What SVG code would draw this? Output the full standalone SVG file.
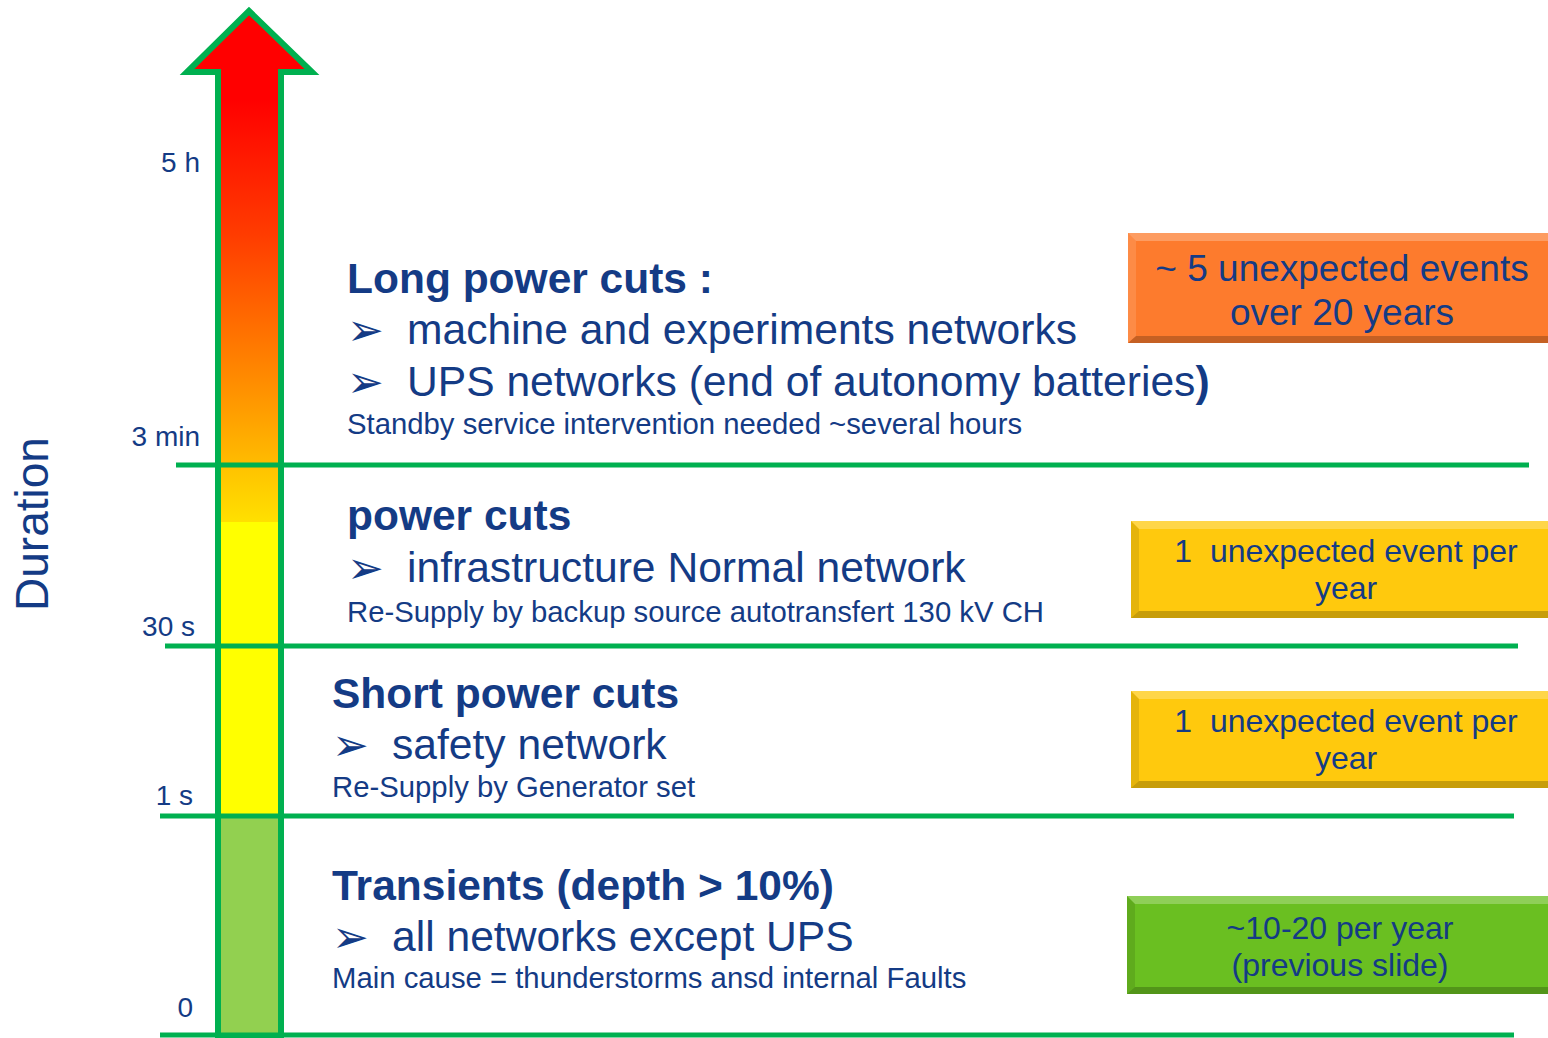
<svg xmlns="http://www.w3.org/2000/svg" width="1548" height="1038" viewBox="0 0 1548 1038">
<defs>
<linearGradient id="arrowGrad" gradientUnits="userSpaceOnUse" x1="0" y1="0" x2="0" y2="522">
<stop offset="0" stop-color="#ff0000"/>
<stop offset="0.19" stop-color="#ff0000"/>
<stop offset="0.45" stop-color="#ff3c00"/>
<stop offset="0.75" stop-color="#ff9200"/>
<stop offset="0.89" stop-color="#ffbc00"/>
<stop offset="0.9" stop-color="#ffc400"/>
<stop offset="1" stop-color="#ffe000"/>
</linearGradient>
<style>
.t{fill:#143b85;font-family:"Liberation Sans",Arial,sans-serif}
.h{font-size:42.5px;font-weight:bold}
.b{font-size:42.6px}
.s{font-size:29.3px}
.ax{font-size:28px;text-anchor:end}
.bx{font-size:32px;text-anchor:middle}
.bxl{font-size:37px;text-anchor:middle}
.bul{font-family:"DejaVu Sans",sans-serif;font-size:44px;fill:#143b85}
.sep{stroke:#00b050;stroke-width:5;fill:none}
.hi{fill:#ffffff;opacity:0.25}
.hi2{fill:#ffffff;opacity:0.12}
.sh{fill:#000000;opacity:0.22}
.sh2{fill:#000000;opacity:0.1}
</style>
</defs>
<rect width="1548" height="1038" fill="#ffffff"/>

<g id="arrow">
<polygon points="249,11 187,72 218,72 218,1037 281,1037 281,72 312,72" fill="url(#arrowGrad)"/>
<rect x="218" y="522" width="63" height="294" fill="#ffff00"/>
<rect x="218" y="816" width="63" height="221" fill="#92d050"/>
<polygon points="249,11 187,72 218,72 218,1037 281,1037 281,72 312,72" fill="none" stroke="#00b050" stroke-width="6"/>
</g>

<g id="connectors">
<line class="sep" x1="176" y1="465" x2="1529" y2="465"/>
<line class="sep" x1="165" y1="646" x2="1518" y2="646"/>
<line class="sep" x1="160" y1="816" x2="1514" y2="816"/>
<line class="sep" x1="160" y1="1035" x2="1514" y2="1035"/>
</g>

<g id="axis-labels">
<text class="t" x="32" y="524" style="font-size:46px" text-anchor="middle" transform="rotate(-90 32 524)" dy="16">Duration</text>
<text class="t ax" x="200" y="172">5 h</text>
<text class="t ax" x="200" y="446">3 min</text>
<text class="t ax" x="195" y="636">30 s</text>
<text class="t ax" x="193" y="805">1 s</text>
<text class="t ax" x="193" y="1017">0</text>
</g>

<g id="long-power-cuts">
<text class="t h" x="347" y="293">Long power cuts :</text>
<text class="bul" x="347" y="345">➢</text>
<text class="t b" x="407" y="344">machine and experiments networks</text>
<text class="bul" x="347" y="397">➢</text>
<text class="t b" x="407" y="396">UPS networks (end of autonomy batteries<tspan font-weight="bold">)</tspan></text>
<text class="t s" x="347" y="434">Standby service intervention needed ~several hours</text>
</g>

<g id="power-cuts">
<text class="t h" x="347" y="530">power cuts</text>
<text class="bul" x="347" y="583">➢</text>
<text class="t b" x="407" y="582">infrastructure Normal network</text>
<text class="t s" x="347" y="622">Re-Supply by backup source autotransfert 130 kV CH</text>
</g>

<g id="short-power-cuts">
<text class="t h" x="332" y="708">Short power cuts</text>
<text class="bul" x="332" y="760">➢</text>
<text class="t b" x="392" y="759">safety network</text>
<text class="t s" x="332" y="797">Re-Supply by Generator set</text>
</g>

<g id="transients">
<text class="t h" x="332" y="900">Transients (depth &gt; 10%)</text>
<text class="bul" x="332" y="952">➢</text>
<text class="t b" x="392" y="951">all networks except UPS</text>
<text class="t s" x="332" y="988">Main cause = thunderstorms ansd internal Faults</text>
</g>

<g id="box-long">
<rect x="1128" y="233" width="430" height="110" fill="#fd7b2d"/>
<polygon class="hi" points="1128,233 1558,233 1550,241 1136,241"/>
<polygon class="sh" points="1128,343 1558,343 1550,336 1136,336"/>
<polygon class="hi2" points="1128,233 1136,241 1136,336 1128,343"/>
<text class="t bxl" x="1342" y="281">~ 5 unexpected events</text>
<text class="t bxl" x="1342" y="325">over 20 years</text>
</g>

<g id="box-power">
<rect x="1131" y="521" width="427" height="97" fill="#ffc90d"/>
<polygon class="hi" points="1131,521 1558,521 1550,529 1139,529"/>
<polygon class="sh" points="1131,618 1558,618 1550,611 1139,611"/>
<polygon class="sh2" points="1131,521 1139,529 1139,611 1131,618"/>
<text class="t bx" x="1346" y="562" xml:space="preserve">1  unexpected event per</text>
<text class="t bx" x="1346" y="599">year</text>
</g>

<g id="box-short">
<rect x="1131" y="691" width="427" height="97" fill="#ffc90d"/>
<polygon class="hi" points="1131,691 1558,691 1550,699 1139,699"/>
<polygon class="sh" points="1131,788 1558,788 1550,781 1139,781"/>
<polygon class="sh2" points="1131,691 1139,699 1139,781 1131,788"/>
<text class="t bx" x="1346" y="732" xml:space="preserve">1  unexpected event per</text>
<text class="t bx" x="1346" y="769">year</text>
</g>

<g id="box-transients">
<rect x="1127" y="896" width="431" height="98" fill="#6abf21"/>
<polygon class="hi" points="1127,896 1558,896 1550,904 1135,904"/>
<polygon class="sh" points="1127,994 1558,994 1550,987 1135,987"/>
<polygon class="sh2" points="1127,896 1135,904 1135,987 1127,994"/>
<text class="t bx" x="1340" y="939">~10-20 per year</text>
<text class="t bx" x="1340" y="976">(previous slide)</text>
</g>
</svg>
